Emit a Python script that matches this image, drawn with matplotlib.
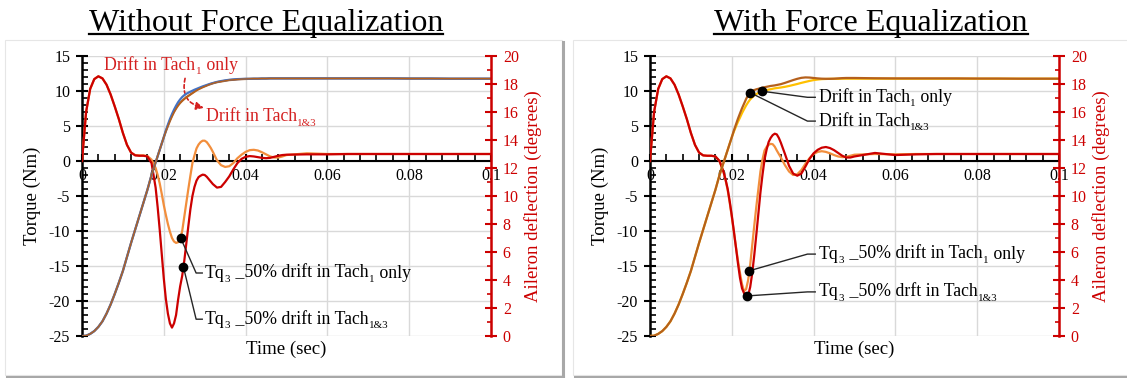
import numpy as np
import matplotlib
matplotlib.use('Agg')
import matplotlib.pyplot as plt
from matplotlib.ticker import MultipleLocator, FuncFormatter
from matplotlib.patches import Rectangle
from matplotlib.lines import Line2D

plt.rcParams['font.family'] = ['Liberation Serif', 'DejaVu Serif']
plt.rcParams['axes.unicode_minus'] = False

# ---------------- data ----------------
time = [0.000, 0.001, 0.002, 0.003, 0.004, 0.005, 0.006, 0.007, 0.008, 0.009,
        0.010, 0.011, 0.012, 0.013, 0.014, 0.015, 0.016, 0.017, 0.018,
        0.0185, 0.019, 0.0195, 0.020, 0.0205, 0.021, 0.0215, 0.022, 0.0225, 0.023,
        0.0235, 0.024, 0.0245, 0.025, 0.0255, 0.026, 0.0265, 0.027, 0.0275, 0.028,
        0.0285, 0.029, 0.0295, 0.030, 0.0305, 0.031, 0.0315, 0.032,
        0.033, 0.034, 0.035, 0.036, 0.037, 0.038, 0.039, 0.040, 0.041, 0.042,
        0.043, 0.044, 0.045, 0.046, 0.047, 0.048, 0.049, 0.050,
        0.055, 0.060, 0.065, 0.070, 0.075, 0.080, 0.085, 0.090, 0.095, 0.100]

# Aileron deflection (degrees) - without force equalization
ail_noeq_tach1 = [0.0, 0.02, 0.15, 0.35, 0.65, 1.05, 1.6, 2.25, 3.0, 3.8,
                  4.65, 5.65, 6.65, 7.6, 8.55, 9.5, 10.45, 11.5, 12.4,
                  12.85, 13.3, 13.75, 14.2, 14.67, 15.1, 15.5, 15.85, 16.17, 16.45,
                  16.7, 16.9, 17.07, 17.2, 17.3, 17.38, 17.45, 17.52, 17.59, 17.65,
                  17.71, 17.77, 17.83, 17.88, 17.93, 17.98, 18.03, 18.07,
                  18.15, 18.21, 18.26, 18.3, 18.33, 18.35, 18.36, 18.37, 18.37, 18.38,
                  18.38, 18.39, 18.39, 18.4, 18.4, 18.4, 18.4, 18.4,
                  18.4, 18.4, 18.4, 18.4, 18.4, 18.39, 18.39, 18.38, 18.38, 18.38]
ail_noeq_tach13 = [0.0, 0.02, 0.15, 0.35, 0.65, 1.05, 1.6, 2.25, 3.0, 3.8,
                   4.65, 5.65, 6.65, 7.6, 8.55, 9.5, 10.45, 11.5, 12.4,
                   12.85, 13.3, 13.75, 14.2, 14.62, 15.0, 15.37, 15.7, 16.0, 16.25,
                   16.47, 16.65, 16.8, 16.93, 17.05, 17.15, 17.25, 17.35, 17.45, 17.55,
                   17.63, 17.7, 17.77, 17.83, 17.89, 17.95, 18.0, 18.05,
                   18.13, 18.18, 18.23, 18.28, 18.3, 18.33, 18.35, 18.36, 18.37, 18.38,
                   18.38, 18.39, 18.39, 18.4, 18.4, 18.4, 18.4, 18.4,
                   18.4, 18.4, 18.4, 18.4, 18.4, 18.39, 18.39, 18.38, 18.38, 18.38]
# Torque Tq3 (Nm) - without force equalization
tq_noeq_tach1 = [0.0, 7.0, 10.3, 11.7, 12.1, 11.8, 10.9, 9.5, 7.8, 6.0,
                 4.0, 2.3, 1.2, 0.85, 0.8, 0.8, 0.7, 0.2, -1.0,
                 -2.0, -3.2, -4.7, -6.3, -7.7, -9.0, -10.1, -11.0, -11.5, -11.7,
                 -11.6, -11.2, -10.0, -8.0, -6.0, -4.0, -2.1, -0.3, 0.8, 1.8,
                 2.35, 2.7, 2.9, 2.9, 2.7, 2.3, 1.85, 1.3,
                 0.1, -0.6, -0.85, -0.75, -0.3, 0.4, 0.9, 1.3, 1.55, 1.6,
                 1.5, 1.25, 0.95, 0.65, 0.5, 0.5, 0.65, 0.85,
                 1.1, 1.0, 1.0, 1.0, 1.0, 1.0, 1.0, 1.0, 1.0, 1.0]
tq_noeq_tach13 = [0.0, 7.0, 10.3, 11.7, 12.1, 11.8, 10.9, 9.5, 7.8, 6.0,
                  4.0, 2.3, 1.2, 0.8, 0.75, 0.75, 0.65, -0.3, -3.8,
                  -6.6, -9.8, -13.3, -16.8, -19.7, -21.8, -23.2, -23.8, -23.2, -22.0,
                  -19.8, -17.9, -16.4, -14.3, -11.8, -9.3, -6.9, -5.0, -3.7, -2.8,
                  -2.3, -2.1, -1.95, -2.0, -2.25, -2.6, -2.95, -3.3,
                  -3.8, -3.7, -3.0, -2.2, -1.2, -0.3, 0.3, 0.6, 0.7, 0.65,
                  0.55, 0.45, 0.4, 0.45, 0.6, 0.75, 0.85, 0.9,
                  0.95, 0.95, 1.0, 1.0, 1.0, 1.0, 1.0, 1.0, 1.0, 1.0]

# Aileron deflection (degrees) - with force equalization
ail_eq_tach1 = [0.0, 0.02, 0.15, 0.35, 0.65, 1.05, 1.6, 2.25, 3.0, 3.8,
                4.65, 5.65, 6.65, 7.6, 8.55, 9.5, 10.45, 11.5, 12.4,
                12.85, 13.3, 13.75, 14.2, 14.6, 14.95, 15.3, 15.6, 15.92, 16.2,
                16.47, 16.7, 16.9, 17.05, 17.18, 17.28, 17.36, 17.43, 17.48, 17.53,
                17.57, 17.6, 17.63, 17.66, 17.69, 17.71, 17.73, 17.75,
                17.8, 17.86, 17.93, 18.0, 18.08, 18.15, 18.22, 18.28, 18.32, 18.35,
                18.36, 18.37, 18.37, 18.37, 18.38, 18.38, 18.38, 18.38,
                18.38, 18.38, 18.38, 18.38, 18.38, 18.38, 18.38, 18.38, 18.38, 18.38]
ail_eq_tach13 = [0.0, 0.02, 0.15, 0.35, 0.65, 1.05, 1.6, 2.25, 3.0, 3.8,
                 4.65, 5.65, 6.65, 7.6, 8.55, 9.5, 10.45, 11.5, 12.4,
                 12.85, 13.3, 13.75, 14.2, 14.67, 15.1, 15.52, 15.9, 16.27, 16.6,
                 16.93, 17.2, 17.38, 17.5, 17.57, 17.62, 17.66, 17.7, 17.74, 17.77,
                 17.8, 17.83, 17.86, 17.88, 17.9, 17.93, 17.96, 17.99,
                 18.08, 18.18, 18.28, 18.37, 18.44, 18.47, 18.46, 18.43, 18.4, 18.38,
                 18.37, 18.37, 18.38, 18.4, 18.42, 18.43, 18.43, 18.43,
                 18.41, 18.4, 18.4, 18.4, 18.4, 18.39, 18.39, 18.38, 18.38, 18.38]
# Torque Tq3 (Nm) - with force equalization
tq_eq_tach1 = [0.0, 7.0, 10.3, 11.7, 12.1, 11.8, 10.9, 9.5, 7.8, 6.0,
               4.0, 2.3, 1.2, 0.8, 0.75, 0.75, 0.65, 0.0, -1.6,
               -2.8, -4.2, -6.0, -8.0, -10.1, -12.2, -14.2, -16.0, -17.6, -18.6,
               -18.3, -17.0, -14.8, -12.0, -9.2, -6.5, -4.0, -1.5, 0.2, 1.5,
               2.0, 2.3, 2.45, 2.4, 2.05, 1.5, 1.0, 0.5,
               -0.6, -1.5, -2.0, -1.9, -1.3, -0.4, 0.4, 1.0, 1.3, 1.4,
               1.3, 1.1, 0.85, 0.65, 0.55, 0.6, 0.75, 0.9,
               1.0, 0.95, 1.0, 1.0, 1.0, 1.0, 1.0, 1.0, 1.0, 1.0]
tq_eq_tach13 = [0.0, 7.0, 10.3, 11.7, 12.1, 11.8, 10.9, 9.5, 7.8, 6.0,
                4.0, 2.3, 1.2, 0.8, 0.75, 0.75, 0.65, 0.0, -1.6,
                -2.7, -4.0, -5.8, -7.8, -10.0, -12.3, -14.6, -16.7, -18.2, -18.9,
                -19.3, -19.2, -18.0, -16.0, -13.4, -10.5, -7.5, -4.5, -2.0, 0.2,
                1.6, 2.7, 3.3, 3.7, 3.9, 3.8, 3.3, 2.6,
                1.0, -0.7, -1.8, -2.1, -1.8, -0.8, 0.3, 1.1, 1.6, 1.9,
                2.0, 1.85, 1.55, 1.15, 0.75, 0.5, 0.5, 0.65,
                1.15, 0.85, 0.95, 1.0, 1.0, 1.0, 1.0, 1.0, 1.0, 1.0]

x_ticks = [0, 0.02, 0.04, 0.06, 0.08, 0.1]
titles = ['Without Force Equalization', 'With Force Equalization']

# label pieces: (text, is_subscript)
lbl_drift1 = [('Drift in Tach', False), ('1', True), (' only', False)]
lbl_drift13 = [('Drift in Tach', False), ('1&3', True)]
lbl_tq1 = [('Tq', False), ('3', True), (' _50% drift in Tach', False), ('1', True), (' only', False)]
lbl_tq13 = [('Tq', False), ('3', True), (' _50% drift in Tach', False), ('1&3', True)]
lbl_tq13_eq = [('Tq', False), ('3', True), (' _50% drft in Tach', False), ('1&3', True)]

# ---------------- styling ----------------
RED = '#CC0000'
TXT_RED = '#D42020'
ORANGE = '#F28E3C'
BLUE = '#4472C4'
BROWN = '#B5601C'
YELLOW = '#FFC000'
GRID = '#D9D9D9'

W, H = 1127, 378
fig = plt.figure(figsize=(W / 100, H / 100), dpi=100)


def fx(px):
    return px / W


def fy(py):
    return 1 - py / H


# panel frames with shadow
for x0, x1 in [(5, 562), (573, 1135)]:
    fig.add_artist(Rectangle((fx(x0), fy(375)), fx(x1 - x0), (375 - 40) / H,
                             transform=fig.transFigure, facecolor='white',
                             edgecolor='#E6E6E6', lw=0.8, zorder=0))
    fig.add_artist(Line2D([fx(x0 + 2), fx(x1 + 1)], [fy(376.5), fy(376.5)],
                          color='#A8A8A8', lw=2.2, zorder=0.5))
    fig.add_artist(Line2D([fx(x1 + 1), fx(x1 + 1)], [fy(42), fy(376.5)],
                          color='#A8A8A8', lw=2.2, zorder=0.5))

# titles with underline
renderer = fig.canvas.get_renderer()
for cx, ttl in zip([266, 871], titles):
    t = fig.text(fx(cx), fy(31), ttl, ha='center', va='baseline', fontsize=23)
    bb = t.get_window_extent(renderer)
    fig.add_artist(Line2D([bb.x0 / W, bb.x1 / W], [fy(34), fy(34)],
                          color='black', lw=1.6))


def setup_axes(left_px):
    ax = fig.add_axes([fx(left_px), fy(336), 409 / W, 280 / H])
    ax.patch.set_visible(False)
    ax.set_xlim(0, 0.1)
    ax.set_ylim(-25, 15)
    ax.spines['top'].set_visible(False)
    ax.spines['right'].set_visible(False)
    ax.spines['left'].set_linewidth(1.8)
    ax.spines['bottom'].set_position(('data', 0))
    ax.spines['bottom'].set_linewidth(1.5)
    ax.spines['bottom'].set_zorder(1.5)
    ax.set_xticks(x_ticks)
    ax.xaxis.set_minor_locator(MultipleLocator(0.004))
    ax.xaxis.set_major_formatter(FuncFormatter(lambda v, _: '0' if abs(v) < 1e-12 else f'{v:g}'))
    ax.yaxis.set_major_locator(MultipleLocator(5))
    ax.yaxis.set_minor_locator(MultipleLocator(1))
    ax.tick_params(axis='y', which='major', direction='inout', length=9, width=1.5,
                   labelsize=11.5, pad=4)
    ax.tick_params(axis='y', which='minor', direction='in', length=4, width=1.2)
    ax.tick_params(axis='x', which='major', direction='in', length=5, width=1.5,
                   labelsize=11.5, pad=5)
    ax.tick_params(axis='x', which='minor', direction='in', length=5, width=1.2)
    ax.grid(True, which='major', color=GRID, lw=1)
    ax.set_axisbelow(True)
    ax.set_xlabel('Time (sec)', fontsize=13.5, va='top')
    ax.xaxis.set_label_coords(0.5, -0.015)
    ax.set_ylabel('Torque (Nm)', fontsize=13.5, va='center')
    ax.yaxis.set_label_coords(-0.122, 0.5)

    tw = ax.twinx()
    tw.set_ylim(0, 20)
    for s in ['left', 'top', 'bottom']:
        tw.spines[s].set_visible(False)
    tw.spines['right'].set_color(RED)
    tw.spines['right'].set_linewidth(1.8)
    tw.yaxis.set_major_locator(MultipleLocator(2))
    tw.yaxis.set_minor_locator(MultipleLocator(1))
    tw.tick_params(axis='y', which='major', direction='inout', length=9, width=1.5,
                   colors=RED, labelsize=11.5, pad=4)
    tw.tick_params(axis='y', which='minor', direction='in', length=3, width=1.2,
                   colors=RED)
    tw.set_ylabel('Aileron deflection (degrees)', fontsize=13.5, color=RED,
                  va='center', rotation=90)
    tw.yaxis.set_label_coords(1.103, 0.5)
    return ax, tw


LW = 1.6
ANN = 12.8


def rich(axis, x, y, parts, fs=ANN, color='black', zorder=6):
    """Left-aligned text made of normal and subscript pieces."""
    sub_fs = fs * 0.62
    drop = fs * 0.12
    prev = axis.text(x, y, parts[0][0], fontsize=fs, color=color, ha='left',
                     va='center', zorder=zorder)
    prev_sub = False
    for s, sub in parts[1:]:
        if sub and not prev_sub:
            dy = -drop
        elif prev_sub and not sub:
            dy = drop
        else:
            dy = 0
        prev = axis.annotate(s, xy=(1, 0), xycoords=prev, xytext=(0.3, dy),
                             textcoords='offset points',
                             fontsize=sub_fs if sub else fs, color=color,
                             ha='left', va='bottom', zorder=zorder,
                             annotation_clip=False)
        prev_sub = sub


def leader(axis, t_dot, curve, x_elbow, x_end, y_elbow, text_x, parts):
    y_dot = np.interp(t_dot, time, curve)
    axis.plot([t_dot, x_elbow, x_end], [y_dot, y_elbow, y_elbow], color='#262626',
              lw=1.0, zorder=5)
    axis.plot([t_dot], [y_dot], 'o', color='black', ms=6, zorder=6)
    rich(axis, text_x, y_elbow, parts)


# ---------------- left panel ----------------
axL, twL = setup_axes(82)
axL.plot(time, tq_noeq_tach1, color=ORANGE, lw=LW, zorder=3)
axL.plot(time, tq_noeq_tach13, color=RED, lw=LW, zorder=3)
twL.plot(time, ail_noeq_tach13, color=BROWN, lw=LW)
twL.plot(time, ail_noeq_tach1, color=BLUE, lw=LW)
twL.plot(time, ail_noeq_tach13, color=BROWN, lw=LW * 0.6)

rich(axL, 0.0055, 13.6, lbl_drift1, color=TXT_RED)
rich(axL, 0.0302, 6.3, lbl_drift13, color=TXT_RED)
axL.annotate('', xy=(0.0298, 7.6), xytext=(0.0252, 11.8),
             arrowprops=dict(arrowstyle='-|>,head_length=0.45,head_width=0.22',
                             color=TXT_RED, lw=1.2, linestyle=(0, (2.2, 1.6)),
                             connectionstyle='arc3,rad=0.5', shrinkA=0, shrinkB=0),
             zorder=6)
leader(axL, 0.0241, tq_noeq_tach1, 0.0279, 0.0294, -16.0, 0.0300, lbl_tq1)
leader(axL, 0.0248, tq_noeq_tach13, 0.0279, 0.0294, -22.6, 0.0300, lbl_tq13)

# ---------------- right panel ----------------
axR, twR = setup_axes(650)
axR.plot(time, tq_eq_tach1, color=ORANGE, lw=LW, zorder=3)
axR.plot(time, tq_eq_tach13, color=RED, lw=LW, zorder=3)
twR.plot(time, ail_eq_tach1, color=YELLOW, lw=LW)
twR.plot(time, ail_eq_tach13, color=BROWN, lw=LW)

leader(twR, 0.0275, ail_eq_tach1, 0.0385, 0.0404, 17.05, 0.0412, lbl_drift1)
leader(twR, 0.0245, ail_eq_tach13, 0.0385, 0.0404, 15.35, 0.0412, lbl_drift13)
leader(axR, 0.0243, tq_eq_tach1, 0.0385, 0.0404, -13.3, 0.0412, lbl_tq1)
leader(axR, 0.0236, tq_eq_tach13, 0.0385, 0.0404, -18.7, 0.0412, lbl_tq13_eq)

fig.savefig('out.png', dpi=100)
